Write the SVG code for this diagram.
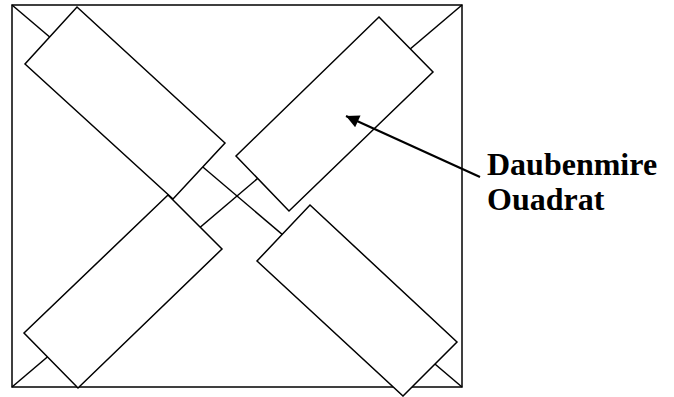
<svg xmlns="http://www.w3.org/2000/svg" width="674" height="397" viewBox="0 0 674 397">
<style>
.ln{fill:none;stroke:#000;stroke-width:1.5}
.plot{fill:#fff;stroke:#000;stroke-width:1.5;stroke-linejoin:miter}
.lbl{font-family:"Liberation Serif",serif;font-weight:bold;font-size:32px;fill:#000}
</style>
<defs>
<marker id="ah2" viewBox="0 0 10 10" refX="10" refY="5" markerWidth="16" markerHeight="13" markerUnits="userSpaceOnUse" orient="auto">
<path d="M0,0 L10,5 L0,10 z" fill="#000"/>
</marker>
</defs>
<rect width="674" height="397" fill="#fff"/>
<g id="frame">
<rect class="ln" x="12" y="5" width="450" height="382" stroke-width="2"/>
<line class="ln" x1="12" y1="5" x2="462" y2="387"/>
<line class="ln" x1="462" y1="5" x2="12" y2="387"/>
</g>
<g id="plot-nw"><polygon class="plot" points="77,7 225,143 173,199 25,64"/></g>
<g id="plot-ne"><polygon class="plot" points="379,17 433,72 289,211 236,156"/></g>
<g id="plot-sw"><polygon class="plot" points="168,195 222,249 78,388 24,333"/></g>
<g id="plot-se"><polygon class="plot" points="310,205 457,342 403,396 257,261"/></g>
<g id="connectors">
<line x1="480" y1="177" x2="346" y2="116" stroke="#000" stroke-width="2.2" marker-end="url(#ah2)"/>
</g>
<g id="label">
<text class="lbl" x="487" y="175">Daubenmire</text>
<text class="lbl" x="487" y="210">Ouadrat</text>
</g>
</svg>
